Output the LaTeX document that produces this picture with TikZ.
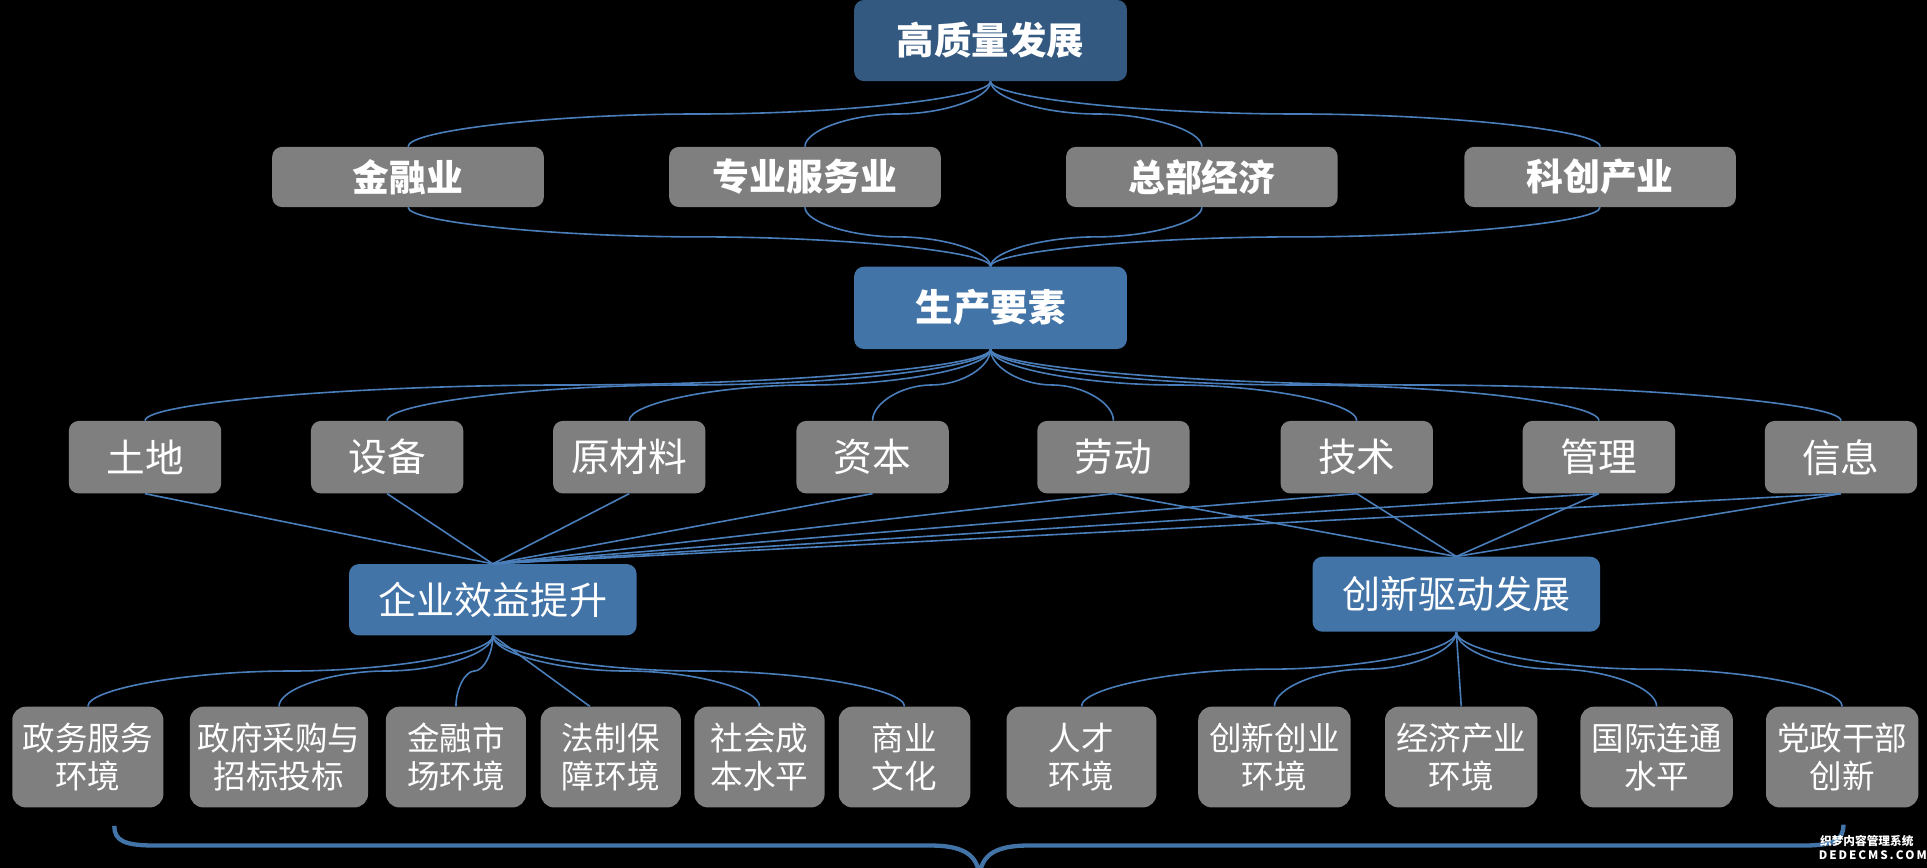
\documentclass[tikz,border=0pt]{standalone}
\usepackage{fontspec}
\setmainfont{Noto Sans CJK SC}
\usetikzlibrary{calc}
\definecolor{topblue}{HTML}{335981}
\definecolor{midblue}{HTML}{4274A8}
\definecolor{boxgray}{HTML}{7F7F7F}
\definecolor{linkblue}{HTML}{4A7EBB}
\begin{document}
\begin{tikzpicture}[x=1pt,y=-1pt,
  box/.style={rounded corners=8pt, inner sep=0pt, text=white, align=center},
  lvtop/.style={box, fill=topblue, minimum width=222pt, minimum height=66pt, font=\fontsize{30.5}{36}\selectfont\bfseries},
  lvmid/.style={box, fill=midblue, minimum width=222pt, minimum height=67pt, font=\fontsize{30.5}{36}\selectfont\bfseries},
  lvtwo/.style={box, fill=boxgray, minimum width=221pt, minimum height=49pt, font=\fontsize{30}{36}\selectfont\bfseries},
  lvthree/.style={box, fill=boxgray, minimum width=124pt, minimum height=59pt, font=\fontsize{31.5}{36}\selectfont},
  lvfour/.style={box, fill=midblue, minimum width=234pt, font=\fontsize{31}{36}\selectfont},
  lvfive/.style={box, fill=boxgray, rounded corners=11pt, minimum height=82pt, font=\fontsize{26.5}{31}\selectfont},
  link/.style={draw=linkblue, line width=1.3pt},
  pcurve/.style={to path={let \p1=(\tikztostart), \p2=(\tikztotarget),
     \p3=($(\tikztostart)!0.25!(\tikztotarget)$),
     \p4=($(\tikztostart)!0.5!(\tikztotarget)$),
     \p5=($(\tikztostart)!0.75!(\tikztotarget)$) in
     .. controls (\x1,\y3) and (\x3,\y4) .. (\x4,\y4)
     .. controls (\x5,\y4) and (\x2,\y5) .. (\x2,\y2)}},
  mark text/.style={text=white, inner sep=0pt, font=\fontsize{9.5}{10}\selectfont\bfseries}
]
\fill[black] (0,0) rectangle (1568,706);
\useasboundingbox (0,0) rectangle (1568,706);

% level 1
\node[lvtop] (top) at (806,33) {高质量发展};
% level 2
\node[lvtwo] (a1) at (332,144) {金融业};
\node[lvtwo] (a2) at (655,144) {专业服务业};
\node[lvtwo] (a3) at (978,144) {总部经济};
\node[lvtwo] (a4) at (1302,144) {科创产业};
% production factors
\node[lvmid] (sc) at (806,250.5) {生产要素};
% level 3
\node[lvthree] (b1) at (118,372) {土地};
\node[lvthree] (b2) at (315,372) {设备};
\node[lvthree] (b3) at (512,372) {原材料};
\node[lvthree] (b4) at (710,372) {资本};
\node[lvthree] (b5) at (906,372) {劳动};
\node[lvthree] (b6) at (1104,372) {技术};
\node[lvthree] (b7) at (1301,372) {管理};
\node[lvthree] (b8) at (1498,372) {信息};
% level 4
\node[lvfour, minimum height=58pt] (q) at (401,488) {企业效益提升};
\node[lvfour, minimum height=61pt] (c) at (1185,483.5) {创新驱动发展};
% level 5
\node[lvfive, minimum width=123pt] (e1) at (71.5,616) {政务服务\\环境};
\node[lvfive, minimum width=145pt] (e2) at (227,616) {政府采购与\\招标投标};
\node[lvfive, minimum width=114pt] (e3) at (371,616) {金融市\\场环境};
\node[lvfive, minimum width=114pt] (e4) at (497,616) {法制保\\障环境};
\node[lvfive, minimum width=106pt] (e5) at (618,616) {社会成\\本水平};
\node[lvfive, minimum width=107pt] (e6) at (736,616) {商业\\文化};
\node[lvfive, minimum width=122pt] (f1) at (880,616) {人才\\环境};
\node[lvfive, minimum width=124pt] (f2) at (1037,616) {创新创业\\环境};
\node[lvfive, minimum width=124pt] (f3) at (1189,616) {经济产业\\环境};
\node[lvfive, minimum width=124pt] (f4) at (1348,616) {国际连通\\水平};
\node[lvfive, minimum width=124pt] (f5) at (1499,616) {党政干部\\创新};

% connectors level 1 -> 2 -> production factors
\foreach \nd in {a1,a2,a3,a4}{
  \draw[link] (top.south) to[pcurve] (\nd.north);
  \draw[link] (\nd.south) to[pcurve] (sc.north);
}
% production factors -> level 3
\foreach \nd in {b1,b2,b3,b4,b5,b6,b7,b8}{
  \draw[link] (sc.south) to[pcurve] (\nd.north);
  \draw[link] (\nd.south) -- (q.north);
}
\foreach \nd in {b5,b6,b7,b8}{
  \draw[link] (\nd.south) -- (c.north);
}
% level 4 -> level 5
\foreach \nd in {e1,e2,e3,e5,e6}{
  \draw[link] (q.south) to[pcurve] (\nd.north);
}
\coordinate (e4top) at ($(e4.north)+(-17,0)$);
\draw[link] (q.south) -- (e4top);
\foreach \nd in {f1,f2,f4,f5}{
  \draw[link] (c.south) to[pcurve] (\nd.north);
}
\draw[link] (c.south) -- (f3.north);

% bottom brace
\draw[midblue, line width=3.5pt]
  (93,672) .. controls (93,684) and (101,688) .. (126,688)
  -- (757,688) .. controls (783,688) and (796,695) .. (797,714)
  .. controls (798,695) and (811,688) .. (837,688)
  -- (1467,688) .. controls (1492,688) and (1500,684) .. (1500,671);

% watermark
\node[mark text] (wm1) at (1519,684) {织梦内容管理系统};
\node[mark text, font=\fontsize{9.5}{10}\selectfont\bfseries, text width=78pt, align=flush center] (wm2) at (1519,695.5) {D\,E\,D\,E\,C\,M\,S\,.\,C\,O\,M};
\end{tikzpicture}
\end{document}
